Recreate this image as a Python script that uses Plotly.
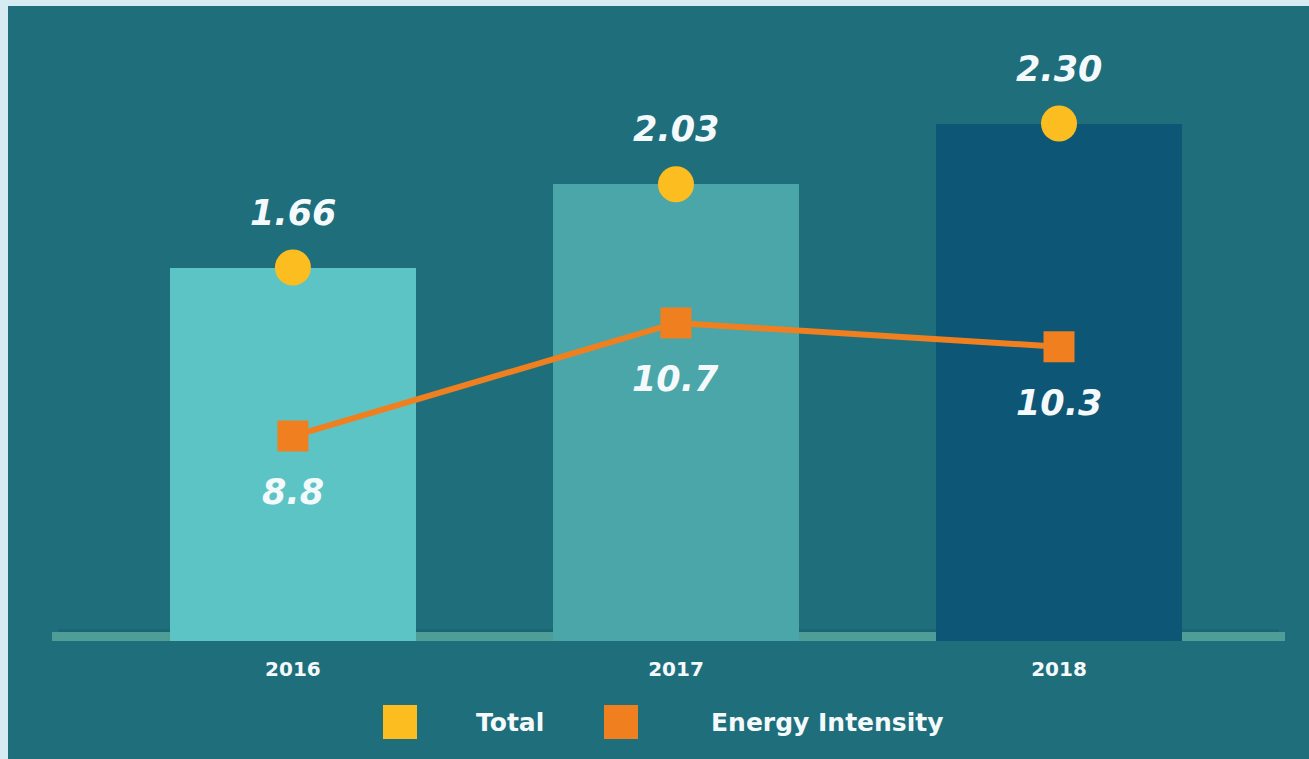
import plotly.graph_objects as go

# ---- data ----
years = ["2016", "2017", "2018"]
total = [1.66, 2.03, 2.30]
energy_intensity = [8.8, 10.7, 10.3]
total_labels = ["1.66", "2.03", "2.30"]
intensity_labels = ["8.8", "10.7", "10.3"]
legend_names = ["Total", "Energy Intensity"]

# ---- style ----
BG = "#1f6e7c"
FRAME = "#d6ecf2"
BAR_COLORS = ["#5cc4c5", "#4aa6a8", "#0e5675"]
YELLOW = "#fbbd1f"
ORANGE = "#f0801f"
WHITE = "#f4fafb"
FONT = "DejaVu Sans"

W, H = 1309, 759
OFFX, OFFY = 8, 6  # page offset of the figure (light frame)
L, R, T, B = 44, 32, 14, 124
PW, PH = W - L - R, H - T - B


def px(x):
    return (x - OFFX - L) / PW


def py(y):
    return (H - B - (y - OFFY)) / PH


fig = go.Figure()

fig.add_trace(go.Bar(
    x=years, y=total, marker=dict(color=BAR_COLORS, line=dict(width=0)),
    width=0.642, showlegend=False, hoverinfo="skip",
))
fig.add_trace(go.Scatter(
    x=years, y=total, mode="markers", name=legend_names[0],
    marker=dict(color=YELLOW, size=36, line=dict(width=0)), showlegend=False,
))
fig.add_trace(go.Scatter(
    x=years, y=energy_intensity, mode="lines+markers", name=legend_names[1],
    yaxis="y2", line=dict(color=ORANGE, width=6),
    marker=dict(color=ORANGE, symbol="square", size=31), showlegend=False,
))

label_font = dict(family=FONT, size=35, color=WHITE, weight="bold", style="italic")
annotations = []
for i, (v, t) in enumerate(zip(total, total_labels)):
    annotations.append(dict(x=i, y=v, xref="x", yref="y", text=t, showarrow=False,
                            yshift=55, font=label_font))
for i, (v, t) in enumerate(zip(energy_intensity, intensity_labels)):
    annotations.append(dict(x=i, y=v, xref="x", yref="y2", text=t,
                            showarrow=False, yshift=-56, font=label_font))

# custom legend
leg_font = dict(family=FONT, size=25, color=WHITE, weight="bold")
annotations.append(dict(x=px(474), y=py(722), xref="paper", yref="paper", text=legend_names[0],
                        showarrow=False, xanchor="left", yanchor="middle", font=leg_font))
annotations.append(dict(x=px(709), y=py(722), xref="paper", yref="paper", text=legend_names[1],
                        showarrow=False, xanchor="left", yanchor="middle", font=leg_font))

shapes = [
    # baseline shadow + baseline
    dict(type="rect", xref="paper", yref="y", x0=0.005, x1=0.995, y0=0.04, y1=0.052,
         fillcolor="#1c6673", line=dict(width=0), layer="below"),
    dict(type="rect", xref="paper", yref="y", x0=0, x1=1, y0=0, y1=0.04,
         fillcolor="#4e9d97", line=dict(width=0), layer="below"),
    # legend swatches
    dict(type="rect", xref="paper", yref="paper", x0=px(383), x1=px(417), y0=py(739), y1=py(705),
         fillcolor=YELLOW, line=dict(width=0)),
    dict(type="rect", xref="paper", yref="paper", x0=px(604), x1=px(638), y0=py(739), y1=py(705),
         fillcolor=ORANGE, line=dict(width=0)),
]

fig.update_layout(
    width=W, height=H,
    margin=dict(l=L, r=R, t=T, b=B, pad=0),
    paper_bgcolor=BG, plot_bgcolor=BG,
    annotations=annotations, shapes=shapes,
    xaxis=dict(type="category", range=[-0.629, 2.59], showgrid=False, zeroline=False,
               showline=False, ticks="", ticklabelstandoff=14,
               tickfont=dict(family=FONT, size=20, color=WHITE, weight="bold")),
    yaxis=dict(range=[0, PH / 225.0], visible=False, showgrid=False, zeroline=False),
    yaxis2=dict(range=[5.355, 5.355 + PH / 59.5], overlaying="y", side="right",
                visible=False, showgrid=False, zeroline=False),
    bargap=0,
)

fig.write_html(
    "out.html",
    post_script=(
        "document.documentElement.style.overflow='hidden';"
        "document.documentElement.style.background='%s';"
        "document.body.style.background='%s';"
        "document.body.style.margin='%dpx 0 0 %dpx';"
        "document.body.style.width='%dpx';" % (FRAME, FRAME, OFFY, OFFX, W)
    ),
)
